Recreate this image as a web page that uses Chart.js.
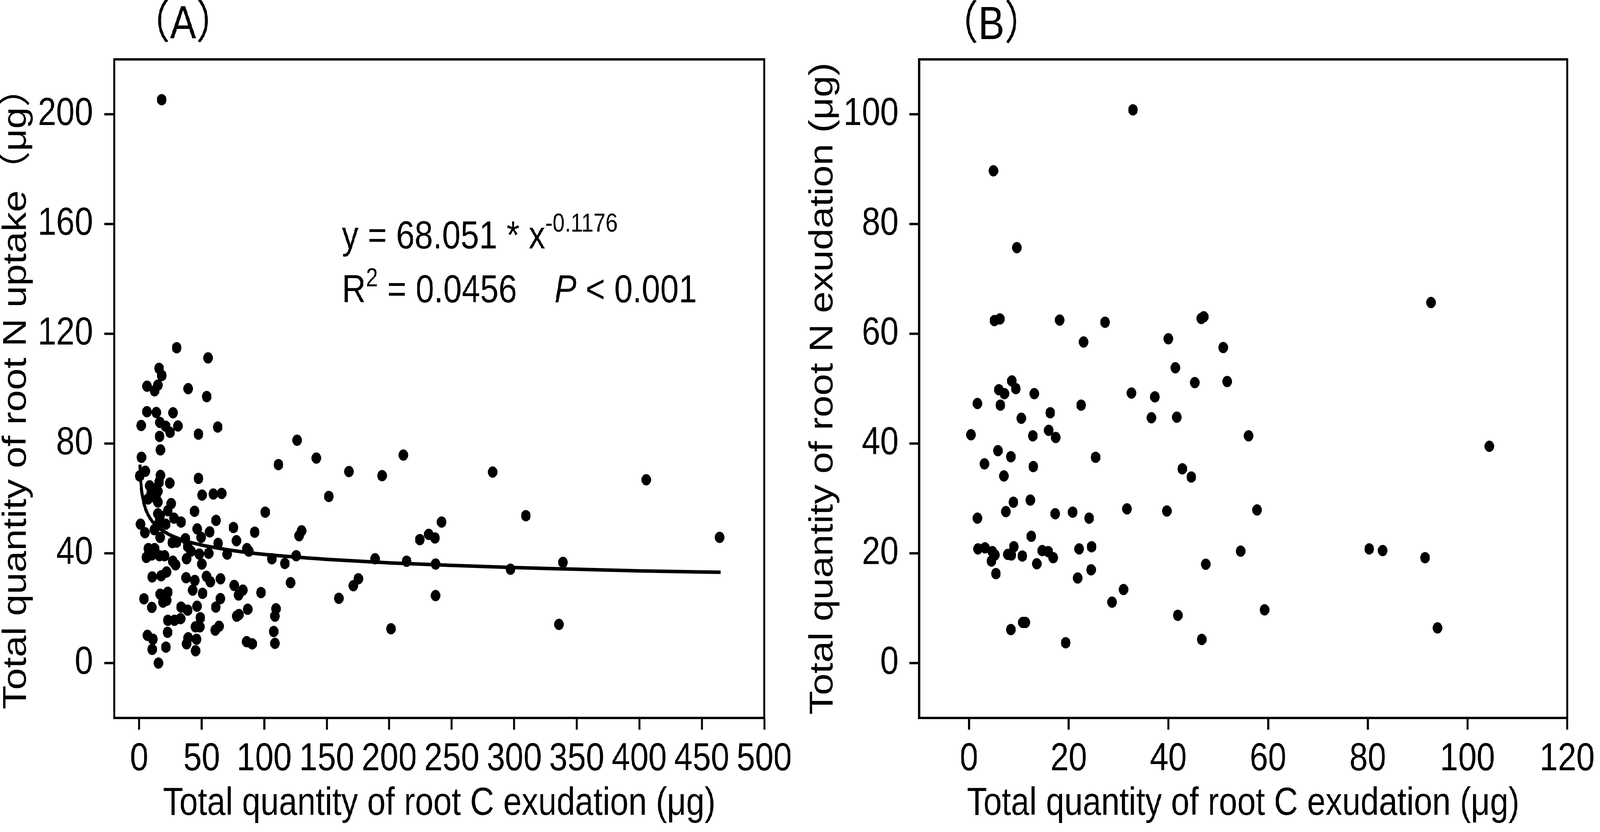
<!DOCTYPE html>
<html>
<head>
<meta charset="utf-8">
<script src="https://cdn.jsdelivr.net/npm/chart.js@4.4.0/dist/chart.umd.min.js"></script>
<style>
  html, body { margin: 0; padding: 0; background: #fff; overflow: hidden; }
  #wrap { position: relative; width: 4834px; height: 2130px; transform-origin: 0 0; }
  canvas { position: absolute; top: 0; }
  #chartA { left: 0; }
  #chartB { left: 2417px; }
</style>
</head>
<body>
<div id="wrap">
  <canvas id="chartA" width="2417" height="2130"></canvas>
  <canvas id="chartB" width="2417" height="2130"></canvas>
</div>
<script>
// (A) root C exudation vs root N uptake
const aCexud = [
  30.0, 55.1, 15.9, 18.1, 6.3, 15.0, 12.3, 39.2, 54.0, 6.2, 13.7, 27.1, 1.6, 16.6, 21.2, 24.7,
  31.0, 16.3, 47.4, 62.8, 17.0, 1.8, 4.9, 0.4, 17.0, 15.9, 24.4, 47.4, 8.4, 9.7, 15.0, 7.1,
  15.0, 25.6, 50.3, 59.3, 66.0, 22.9, 15.0, 44.3, 27.8, 33.5, 21.2, 61.5, 1.1, 4.6, 12.1, 46.4,
  16.8, 49.6, 56.4, 37.0, 75.4, 92.4, 100.8, 77.8, 26.5, 30.0, 7.3, 12.3, 38.8, 63.1, 86.2, 87.7,
  5.7, 10.1, 16.3, 20.3, 26.9, 29.1, 37.9, 41.4, 48.1, 55.6, 70.4, 50.1, 10.4, 17.6, 21.9, 37.5,
  44.5, 53.8, 56.9, 65.1, 42.8, 76.0, 82.9, 79.5, 97.4, 3.8, 16.8, 22.9, 19.0, 22.0, 50.7, 10.1,
  33.5, 38.8, 46.3, 61.3, 65.0, 86.8, 78.0, 79.8, 22.9, 28.2, 33.1, 48.9, 45.0, 48.5, 60.8, 63.9,
  6.6, 11.0, 22.7, 39.2, 37.9, 45.9, 10.4, 21.4, 45.1, 86.0, 90.4, 15.4, 14.1, 16.3, 13.5, 16.7,
  14.7, 18.0,
  126.3, 111.4, 141.7, 167.8, 194.3, 211.3, 151.7, 127.9, 129.9, 224.5, 231.6, 236.6, 241.9, 106.1,
  116.5, 125.6, 188.7, 213.9, 237.1, 121.1, 109.4, 108.6, 107.6, 108.6, 159.7, 171.3, 175.3, 201.4,
  237.1,
  282.7, 309.3, 297.0, 339.0, 335.8, 405.6, 464.3
];
const aNuptake = [
  114.9, 111.2, 107.4, 104.8, 100.9, 101.3, 99.2, 100.0, 97.1, 91.6, 91.3, 91.2, 86.6, 87.7, 86.3, 84.1,
  86.4, 82.6, 83.4, 86.0, 77.7, 75.0, 69.9, 68.2, 68.4, 65.9, 65.6, 67.3, 64.6, 62.0, 62.6, 59.8,
  58.7, 58.1, 61.2, 61.6, 61.8, 55.5, 54.4, 55.3, 52.8, 51.4, 50.6, 52.0, 50.6, 47.5, 48.6, 48.9,
  45.8, 45.8, 47.8, 45.3, 49.4, 47.7, 55.0, 44.6, 43.9, 44.1, 41.7, 41.7, 42.5, 43.6, 41.7, 40.8,
  38.5, 39.4, 39.1, 39.1, 37.1, 35.8, 38.0, 40.8, 39.7, 40.0, 39.7, 36.1, 31.4, 31.8, 33.2, 31.1,
  30.1, 31.6, 29.6, 30.7, 26.6, 28.3, 26.6, 24.8, 25.7, 23.4, 25.1, 25.8, 22.2, 22.9, 25.4, 20.3,
  20.4, 19.3, 20.7, 20.4, 23.5, 19.6, 17.1, 17.7, 15.6, 15.6, 16.2, 16.5, 13.2, 13.2, 12.0, 13.4,
  10.1, 8.7, 11.2, 9.2, 7.0, 8.7, 5.0, 5.8, 4.5, 7.8, 7.0, 0.0, 63.7, 52.0, 60.0, 53.7,
  50.2, 205.3,
  81.2, 72.3, 74.7, 69.8, 68.3, 75.8, 60.7, 46.4, 48.2, 45.0, 46.9, 45.6, 51.4, 38.0,
  36.3, 39.1, 38.0, 37.1, 36.1, 29.3, 19.8, 17.1, 11.5, 7.2, 23.6, 28.2, 30.7, 12.5,
  24.6,
  69.6, 53.7, 34.2, 36.7, 14.1, 66.8, 45.8
];

// fitted power curve y = 68.051 * x^-0.1176, as traced on the figure
const fitX = [0.6, 1, 2, 3, 5, 10, 20, 35, 50, 75, 100, 150, 200, 250, 300, 350, 400, 465];
const fitY = [72.3, 68.1, 62.7, 59.8, 56.3, 51.9, 47.9, 44.8, 43.0, 41.0, 39.6, 37.8, 36.5, 35.6, 34.8, 34.2, 33.6, 33.1];

// (B) root C exudation vs root N exudation
const bCexud = [
  32.9, 4.9, 9.6, 92.7, 5.1, 6.2, 18.2, 27.3, 46.6, 47.1, 23.0, 40.0, 51.0, 41.4, 8.6, 45.3,
  51.8, 9.4, 6.0, 7.1, 13.1, 32.6, 37.3, 1.7, 6.3, 22.5, 16.3, 36.6, 41.7, 10.5, 16.0, 0.4,
  12.8, 17.4, 56.1, 104.4, 5.8, 8.4, 25.4, 3.1, 12.9, 42.8, 44.6, 7.0, 8.9, 12.3, 31.7, 39.7,
  57.8, 7.4, 17.3, 20.8, 1.7, 24.1, 12.5, 9.0, 24.6, 1.8, 3.2, 22.1, 14.7, 15.9, 80.3, 83.0,
  54.5, 4.7, 5.2, 7.8, 8.5, 10.7, 16.9, 91.5, 4.5, 13.6, 47.5, 24.5, 5.4, 21.8, 31.0, 28.7,
  59.3, 41.9, 10.8, 11.3, 8.4, 94.0, 19.4, 46.7
];
const bNexud = [
  100.8, 89.7, 75.7, 65.7, 62.4, 62.7, 62.5, 62.1, 62.8, 63.1, 58.5, 59.1, 57.5, 53.8, 51.4, 51.1,
  51.3, 50.0, 49.8, 49.1, 49.1, 49.2, 48.5, 47.3, 47.0, 47.0, 45.6, 44.7, 44.8, 44.6, 42.4, 41.6,
  41.4, 41.1, 41.4, 39.5, 38.7, 37.6, 37.5, 36.3, 35.8, 35.4, 33.9, 34.1, 29.3, 29.7, 28.1, 27.7,
  27.9, 27.6, 27.2, 27.5, 26.4, 26.4, 23.1, 21.2, 21.2, 20.8, 21.0, 20.8, 20.5, 20.3, 20.8, 20.5,
  20.4, 20.3, 19.7, 19.8, 19.7, 19.5, 19.2, 19.2, 18.6, 18.1, 18.0, 17.0, 16.3, 15.5, 13.4, 11.1,
  9.7, 8.7, 7.4, 7.4, 6.1, 6.4, 3.7, 4.3
];

const xTicksA = [0, 50, 100, 150, 200, 250, 300, 350, 400, 450, 500];
const yTicksA = [0, 40, 80, 120, 160, 200];
const xTicksB = [0, 20, 40, 60, 80, 100, 120];
const yTicksB = [0, 20, 40, 60, 80, 100];

const FONT = "'Liberation Sans', Arial, 'Noto Sans CJK SC', sans-serif";
Chart.defaults.font.family = FONT;
Chart.defaults.color = '#000';

// the figure is laid out on a 4834 x 2130 sheet; stretch it over the real window
const sx = window.innerWidth / 4834;
const sy = window.innerHeight / 2130;
document.getElementById('wrap').style.transform = 'scale(' + sx + ',' + sy + ')';
const ratio = (window.devicePixelRatio || 1) * Math.max(sx, sy);

const pts = (xs, ys) => xs.map((x, i) => ({ x: x, y: ys[i] }));

// frame round the plot area plus free text (panel letter, equation)
const framePlugin = {
  id: 'frame',
  afterDraw(chart, args, opts) {
    const { ctx, chartArea: a } = chart;
    ctx.save();
    ctx.strokeStyle = '#000';
    ctx.lineWidth = 6;
    ctx.strokeRect(a.left, a.top, a.right - a.left, a.bottom - a.top);

    ctx.fillStyle = '#000';
    ctx.textBaseline = 'alphabetic';
    ctx.textAlign = 'center';
    ctx.font = '118px ' + FONT;
    ctx.fillText(opts.label, opts.labelX, opts.labelY);

    if (opts.equation) {
      ctx.textAlign = 'left';
      let x = 1033;
      ctx.font = '100px ' + FONT;
      ctx.fillText('y = 68.051 * x', x, 636);
      x += ctx.measureText('y = 68.051 * x').width;
      ctx.font = '66px ' + FONT;
      ctx.fillText('-0.1176', x, 593);

      x = 1033;
      ctx.font = '100px ' + FONT;
      ctx.fillText('R', x, 774);
      x += ctx.measureText('R').width;
      ctx.font = '66px ' + FONT;
      ctx.fillText('2', x, 733);
      x += ctx.measureText('2').width;
      ctx.font = '100px ' + FONT;
      ctx.fillText(' = 0.0456', x, 774);
      x = 1675;
      ctx.font = 'italic 100px ' + FONT;
      ctx.fillText('P', x, 774);
      x += ctx.measureText('P').width;
      ctx.font = '100px ' + FONT;
      ctx.fillText(' < 0.001', x, 774);
    }
    ctx.restore();
  }
};

function axis(min, max, ticks, title, fixed, horizontal, tickPad, titlePad) {
  return {
    type: 'linear',
    min: min,
    max: max,
    afterBuildTicks: s => { s.ticks = ticks.map(v => ({ value: v })); },
    afterFit: s => { if (horizontal) s.height = fixed; else s.width = fixed; },
    grid: { display: true, drawOnChartArea: false, drawTicks: true, tickLength: 30, tickWidth: 6, tickColor: '#000' },
    border: { display: true, color: '#000', width: 6 },
    ticks: { font: { size: 100 }, color: '#000', padding: tickPad, autoSkip: false, maxRotation: 0, minRotation: 0 },
    title: { display: true, text: title, color: '#000', font: { size: 100, lineHeight: 1 }, padding: titlePad }
  };
}

new Chart(document.getElementById('chartA'), {
  type: 'scatter',
  data: {
    datasets: [
      {
        data: pts(aCexud, aNuptake),
        backgroundColor: '#000', borderWidth: 0, pointRadius: 14.5, pointHoverRadius: 14.5
      },
      {
        type: 'line',
        data: pts(fitX, fitY),
        borderColor: '#000', borderWidth: 9, pointRadius: 0, fill: false,
        cubicInterpolationMode: 'monotone'
      }
    ]
  },
  options: {
    responsive: false, animation: false, devicePixelRatio: ratio,
    layout: { padding: { left: 0, right: 108, top: 152, bottom: 0 } },
    plugins: {
      legend: { display: false }, tooltip: { enabled: false },
      frame: { label: '（A）', labelX: 553, labelY: 98, equation: true }
    },
    scales: {
      x: axis(-20, 500, xTicksA, 'Total quantity of root C exudation (μg)', 292, true, 16, { top: 0, bottom: 22 }),
      y: axis(-20, 220, yTicksA, 'Total quantity of root N uptake（μg）', 345, false, 34, { top: 0, bottom: 0 })
    }
  },
  plugins: [framePlugin]
});

new Chart(document.getElementById('chartB'), {
  type: 'scatter',
  data: {
    datasets: [
      {
        data: pts(bCexud, bNexud),
        backgroundColor: '#000', borderWidth: 0, pointRadius: 14.5, pointHoverRadius: 14.5
      }
    ]
  },
  options: {
    responsive: false, animation: false, devicePixelRatio: ratio,
    layout: { padding: { left: 0, right: 96, top: 152, bottom: 0 } },
    plugins: {
      legend: { display: false }, tooltip: { enabled: false },
      frame: { label: '（B）', labelX: 578, labelY: 100, equation: false }
    },
    scales: {
      x: axis(-10, 120, xTicksB, 'Total quantity of root C exudation (μg)', 292, true, 16, { top: 0, bottom: 22 }),
      y: axis(-10, 110, yTicksB, 'Total quantity of root N exudation (μg)', 360, false, 32, { top: 20, bottom: 0 })
    }
  },
  plugins: [framePlugin]
});
</script>
</body>
</html>
